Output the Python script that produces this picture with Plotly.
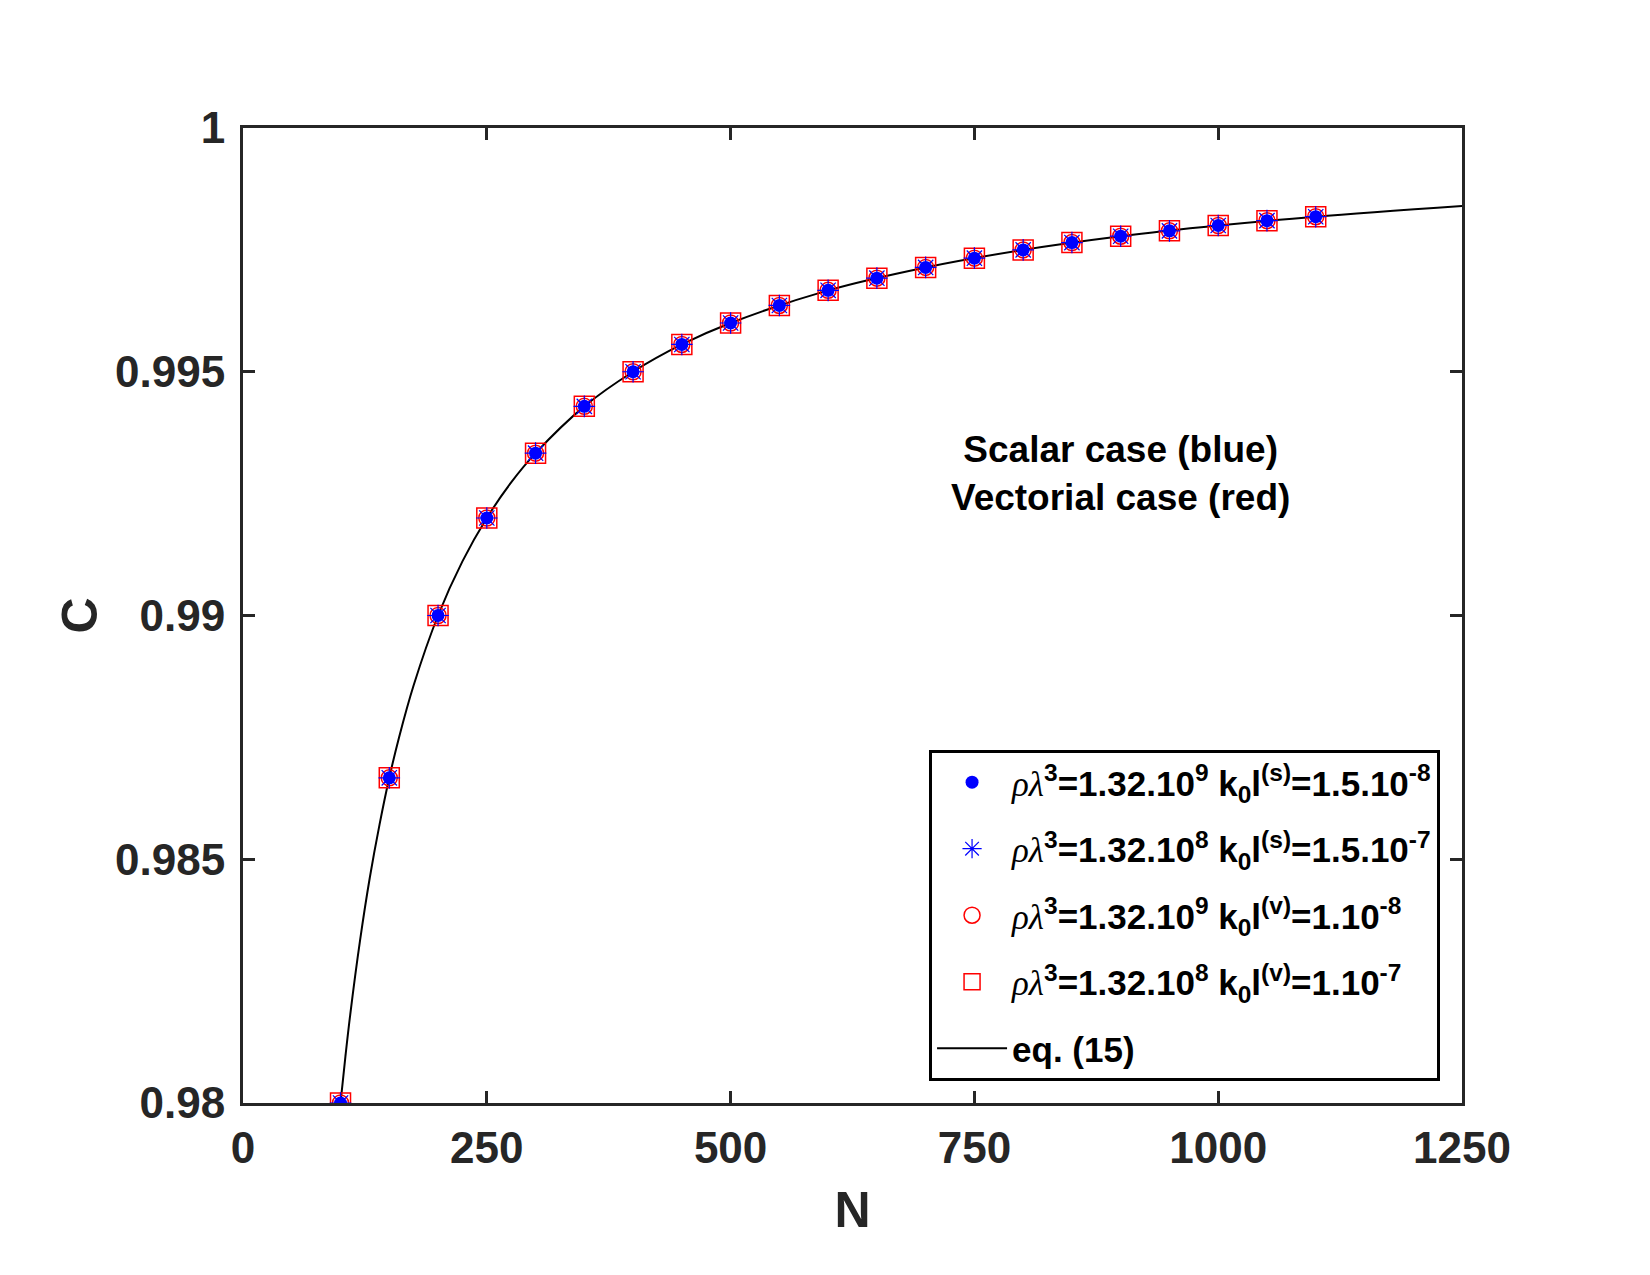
import plotly.graph_objects as go

# Data points (N, C)
N_pts = [100, 150, 200, 250, 300, 350, 400, 450, 500, 550, 600, 650, 700,
         750, 800, 850, 900, 950, 1000, 1050, 1100]
C_scalar_9 = [0.98, 0.98667, 0.99, 0.992, 0.99333, 0.99429, 0.995, 0.99556, 0.996,
              0.99636, 0.99667, 0.99692, 0.99714, 0.99733, 0.9975, 0.99765, 0.99778,
              0.99789, 0.998, 0.9981, 0.99818]
C_scalar_8 = [0.98, 0.98667, 0.99, 0.992, 0.99333, 0.99429, 0.995, 0.99556, 0.996,
              0.99636, 0.99667, 0.99692, 0.99714, 0.99733, 0.9975, 0.99765, 0.99778,
              0.99789, 0.998, 0.9981, 0.99818]
C_vect_9 = [0.98, 0.98667, 0.99, 0.992, 0.99333, 0.99429, 0.995, 0.99556, 0.996,
            0.99636, 0.99667, 0.99692, 0.99714, 0.99733, 0.9975, 0.99765, 0.99778,
            0.99789, 0.998, 0.9981, 0.99818]
C_vect_8 = [0.98, 0.98667, 0.99, 0.992, 0.99333, 0.99429, 0.995, 0.99556, 0.996,
            0.99636, 0.99667, 0.99692, 0.99714, 0.99733, 0.9975, 0.99765, 0.99778,
            0.99789, 0.998, 0.9981, 0.99818]

# eq. (15) curve
N_curve = [100, 105, 110, 120, 130, 140, 150, 160, 175, 200, 225, 250, 275, 300,
           350, 400, 450, 500, 600, 700, 800, 900, 1000, 1100, 1250]
C_curve = [0.98, 0.98095, 0.98182, 0.98333, 0.98462, 0.98571, 0.98667, 0.9875,
           0.98857, 0.99, 0.99111, 0.992, 0.99273, 0.99333, 0.99429, 0.995,
           0.99556, 0.996, 0.99667, 0.99714, 0.9975, 0.99778, 0.998, 0.99818, 0.9984]

x_ticks = [0, 250, 500, 750, 1000, 1250]
y_ticks = [0.98, 0.985, 0.99, 0.995, 1.0]
y_tick_labels = ["0.98", "0.985", "0.99", "0.995", "1"]

RL = "<span style=\"font-family:'Liberation Serif';font-weight:normal\"><i>ρλ</i></span>"
names = [
    RL + "<b><sup>3</sup>=1.32.10<sup>9</sup> k<sub>0</sub>l<sup>(s)</sup>=1.5.10<sup>-8</sup></b>",
    RL + "<b><sup>3</sup>=1.32.10<sup>8</sup> k<sub>0</sub>l<sup>(s)</sup>=1.5.10<sup>-7</sup></b>",
    RL + "<b><sup>3</sup>=1.32.10<sup>9</sup> k<sub>0</sub>l<sup>(v)</sup>=1.10<sup>-8</sup></b>",
    RL + "<b><sup>3</sup>=1.32.10<sup>8</sup> k<sub>0</sub>l<sup>(v)</sup>=1.10<sup>-7</sup></b>",
    "<b>eq. (15)</b>",
]

fig = go.Figure()
# drawn back-to-front; legend order set with legendrank
fig.add_trace(go.Scatter(x=N_curve, y=C_curve, mode="lines", name=names[4],
                         legendrank=5, legendgroup="g5",
                         line=dict(color="black", width=2, shape="spline")))
fig.add_trace(go.Scatter(x=N_pts, y=C_vect_8, mode="markers", name=names[3],
                         legendrank=4, legendgroup="g4",
                         marker=dict(symbol="square-open", size=20,
                                     line=dict(color="#ff0000", width=1.5), color="#ff0000")))
fig.add_trace(go.Scatter(x=N_pts, y=C_vect_9, mode="markers", name=names[2],
                         legendrank=3, legendgroup="g3",
                         marker=dict(symbol="circle-open", size=16,
                                     line=dict(color="#ff0000", width=1.5), color="#ff0000")))
fig.add_trace(go.Scatter(x=N_pts, y=C_scalar_8, mode="markers", name=names[1],
                         legendrank=2, legendgroup="g2",
                         marker=dict(symbol="asterisk-open", size=18, color="#0000ff",
                                     line=dict(color="#0000ff", width=1.2))))
fig.add_trace(go.Scatter(x=N_pts, y=C_scalar_9, mode="markers", name=names[0],
                         legendrank=1, legendgroup="g1",
                         marker=dict(symbol="circle", size=13, color="#0000ff")))

axis_common = dict(
    showline=True, linecolor="#262626", linewidth=3, mirror="ticks",
    ticks="inside", ticklen=12, tickwidth=3, tickcolor="#262626",
    showgrid=False, zeroline=False,
    tickfont=dict(family="Liberation Sans", size=44, color="#262626"),
)

fig.update_layout(
    width=1650, height=1275,
    margin=dict(l=243, r=188, t=128, b=172),
    paper_bgcolor="white", plot_bgcolor="white",
    font=dict(family="Liberation Sans", color="#262626"),
    xaxis=dict(range=[0, 1250], tickvals=x_ticks,
               ticktext=["<b>%d</b>" % t for t in x_ticks], ticklabelstandoff=4,
               title=dict(text="<b>N</b>", font=dict(size=50, color="#262626"), standoff=22),
               **axis_common),
    yaxis=dict(range=[0.98, 1.0], tickvals=y_ticks,
               ticktext=["<b>%s</b>" % t for t in y_tick_labels],
               ticklabelstandoff=6,
               title=dict(text="<b>C</b>", font=dict(size=50, color="#262626"), standoff=2),
               **axis_common),
    legend=dict(x=0.982, y=0.0226, xanchor="right", yanchor="bottom",
                bordercolor="black", borderwidth=3, bgcolor="white",
                font=dict(family="Liberation Sans", size=35, color="black"),
                itemwidth=70, traceorder="grouped", tracegroupgap=18),
    showlegend=True,
)

fig.add_annotation(x=900, y=0.99292, xref="x", yref="y",
                   text="<b>Scalar case (blue)<br>Vectorial case (red)</b>",
                   showarrow=False, align="center",
                   font=dict(family="Liberation Sans", size=37, color="black"))

fig.write_html("out.html")
